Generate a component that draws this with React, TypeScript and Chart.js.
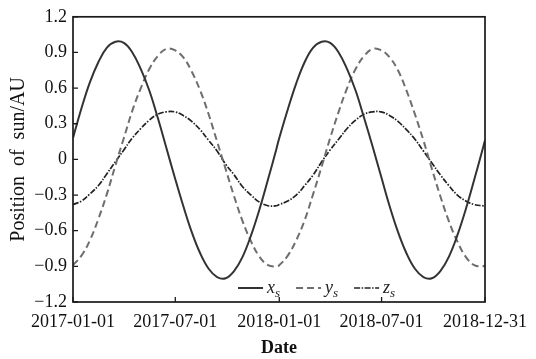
import { useEffect, useRef } from "react";
import { Chart, registerables } from "chart.js";

Chart.register(...registerables);

// Days counted from 2017-01-01
const days = [
  0, 15, 30, 45, 60, 75, 90, 105, 120, 135, 150, 165, 180, 195, 210, 225, 240, 255, 270, 285, 300, 315, 330, 345, 360,
  365, 380, 395, 410, 425, 440, 455, 470, 485, 500, 515, 530, 545, 560, 575, 590, 605, 620, 635, 650, 665, 680, 695, 710, 725, 729,
];
const xsValues = [
  0.18, 0.43, 0.65, 0.82, 0.94, 0.99, 0.98, 0.9, 0.76, 0.58, 0.35, 0.1, -0.15, -0.39, -0.61, -0.79, -0.92, -0.99, -1.0, -0.94, -0.82, -0.64, -0.42, -0.17, 0.09,
  0.18, 0.42, 0.64, 0.82, 0.94, 0.99, 0.98, 0.9, 0.76, 0.58, 0.35, 0.11, -0.14, -0.39, -0.61, -0.79, -0.92, -0.99, -1.0, -0.94, -0.82, -0.64, -0.42, -0.17, 0.09, 0.16,
];
const ysValues = [
  -0.89, -0.81, -0.68, -0.5, -0.29, -0.05, 0.18, 0.41, 0.6, 0.76, 0.87, 0.93, 0.92, 0.86, 0.74, 0.58, 0.38, 0.15, -0.08, -0.31, -0.52, -0.69, -0.82, -0.89, -0.9,
  -0.89, -0.81, -0.68, -0.51, -0.29, -0.06, 0.18, 0.4, 0.6, 0.76, 0.87, 0.93, 0.92, 0.86, 0.75, 0.58, 0.38, 0.16, -0.08, -0.31, -0.52, -0.69, -0.82, -0.89, -0.9, -0.89,
];
const zsValues = [
  -0.38, -0.35, -0.29, -0.22, -0.12, -0.02, 0.08, 0.18, 0.26, 0.33, 0.38, 0.4, 0.4, 0.37, 0.32, 0.25, 0.16, 0.07, -0.04, -0.13, -0.23, -0.3, -0.36, -0.39, -0.39,
  -0.38, -0.35, -0.3, -0.22, -0.13, -0.02, 0.08, 0.17, 0.26, 0.33, 0.38, 0.4, 0.4, 0.37, 0.32, 0.25, 0.17, 0.07, -0.03, -0.13, -0.22, -0.3, -0.35, -0.38, -0.39, -0.39,
];
const seriesLetters = ["x", "y", "z"];
const seriesSubscript = "s";
const xTickDays = [0, 181, 365, 546, 729];
const xTickLabels = ["2017-01-01", "2017-07-01", "2018-01-01", "2018-07-01", "2018-12-31"];
const yTickValues = [-1.2, -0.9, -0.6, -0.3, 0, 0.3, 0.6, 0.9, 1.2];
const xTitle = "Date";
const yTitle = "Position  of  sun/AU";

const FONT = '"Liberation Serif", "Times New Roman", serif';

const decorPlugin = {
  id: "decor",
  beforeDraw(chart: any) {
    const ctx = chart.ctx;
    ctx.save();
    ctx.fillStyle = "#ffffff";
    ctx.fillRect(0, 0, chart.width, chart.height);
    ctx.restore();
  },
  afterDraw(chart: any) {
    const ctx = chart.ctx;
    const { left, right, top, bottom } = chart.chartArea;
    ctx.save();
    ctx.strokeStyle = "#1a1a1a";
    ctx.lineWidth = 1.7;
    ctx.setLineDash([]);
    ctx.strokeRect(left, top, right - left, bottom - top);
    const xScale = chart.scales.x;
    const yScale = chart.scales.y;
    ctx.lineWidth = 1.3;
    ctx.beginPath();
    xScale.ticks.forEach((t: any) => {
      const px = xScale.getPixelForValue(t.value);
      ctx.moveTo(px, bottom);
      ctx.lineTo(px, bottom - 5);
    });
    yScale.ticks.forEach((t: any) => {
      const py = yScale.getPixelForValue(t.value);
      ctx.moveTo(left, py);
      ctx.lineTo(left + 5, py);
    });
    ctx.stroke();

    // legend inside chart area, bottom center
    let x = left + 165;
    const y = bottom - 14;
    chart.data.datasets.forEach((ds: any) => {
      ctx.setLineDash(ds.borderDash || []);
      ctx.strokeStyle = ds.borderColor;
      ctx.lineWidth = ds.borderWidth;
      ctx.beginPath();
      ctx.moveTo(x, y);
      ctx.lineTo(x + 25, y);
      ctx.stroke();
      ctx.setLineDash([]);
      x += 29;
      ctx.fillStyle = "#222";
      ctx.textBaseline = "alphabetic";
      ctx.textAlign = "left";
      ctx.font = `italic 18px ${FONT}`;
      ctx.fillText(ds.label, x, y + 5);
      const w = ctx.measureText(ds.label).width;
      ctx.font = `italic 13px ${FONT}`;
      ctx.fillText(seriesSubscript, x + w, y + 9);
      x += w + ctx.measureText(seriesSubscript).width + 16;
    });
    ctx.restore();
  },
};

export default function App() {
  const canvasRef = useRef<HTMLCanvasElement>(null);

  useEffect(() => {
    if (!canvasRef.current) return;
    const mk = (vals: number[]) => days.map((d, i) => ({ x: d, y: vals[i] }));
    const chart = new Chart(canvasRef.current, {
      type: "line",
      data: {
        datasets: [
          {
            label: seriesLetters[0],
            data: mk(xsValues),
            borderColor: "#333333",
            borderWidth: 2,
            pointRadius: 0,
            tension: 0.4,
            fill: false,
          },
          {
            label: seriesLetters[1],
            data: mk(ysValues),
            borderColor: "#6e6e6e",
            borderWidth: 2,
            borderDash: [7, 4],
            pointRadius: 0,
            tension: 0.4,
            fill: false,
          },
          {
            label: seriesLetters[2],
            data: mk(zsValues),
            borderColor: "#222222",
            borderWidth: 1.7,
            borderDash: [6, 1.5, 1.5, 1.5],
            pointRadius: 0,
            tension: 0.4,
            fill: false,
          },
        ],
      },
      options: {
        animation: false,
        responsive: true,
        maintainAspectRatio: false,
        layout: { padding: { left: 0, top: 15, right: 44, bottom: 0 } },
        plugins: { legend: { display: false }, tooltip: { enabled: false } },
        scales: {
          x: {
            type: "linear",
            min: 0,
            max: 729,
            grid: { display: false, drawTicks: false },
            border: { display: false },
            afterBuildTicks: (s: any) => {
              s.ticks = xTickDays.map((v) => ({ value: v }));
            },
            afterFit: (s: any) => {
              s.height = 57;
            },
            ticks: {
              autoSkip: false,
              maxRotation: 0,
              padding: 9,
              color: "#111111",
              font: { family: FONT, size: 18 },
              callback: (v: any) => xTickLabels[xTickDays.indexOf(Number(v))] ?? "",
            },
            title: {
              display: true,
              text: xTitle,
              color: "#111111",
              font: { family: FONT, size: 18, weight: "bold" },
              padding: { top: 0, bottom: 0 },
            },
          },
          y: {
            type: "linear",
            min: -1.2,
            max: 1.2,
            grid: { display: false, drawTicks: false },
            border: { display: false },
            afterBuildTicks: (s: any) => {
              s.ticks = yTickValues.map((v) => ({ value: v }));
            },
            afterFit: (s: any) => {
              s.width = 73;
            },
            ticks: {
              padding: 6,
              color: "#111111",
              font: { family: FONT, size: 18 },
              callback: (v: any) => {
                const n = Number(v);
                if (Math.abs(n) < 1e-9) return "0";
                return n < 0 ? "\u2212" + Math.abs(n).toFixed(1) : n.toFixed(1);
              },
            },
            title: {
              display: true,
              text: yTitle,
              color: "#111111",
              font: { family: FONT, size: 20 },
              padding: { top: 7, bottom: 0 },
            },
          },
        },
      },
      plugins: [decorPlugin],
    });
    return () => chart.destroy();
  }, []);

  return (
    <div style={{ position: "absolute", left: 0, top: 0, width: 536, height: 359, background: "#fff" }}>
      <canvas ref={canvasRef} />
    </div>
  );
}
